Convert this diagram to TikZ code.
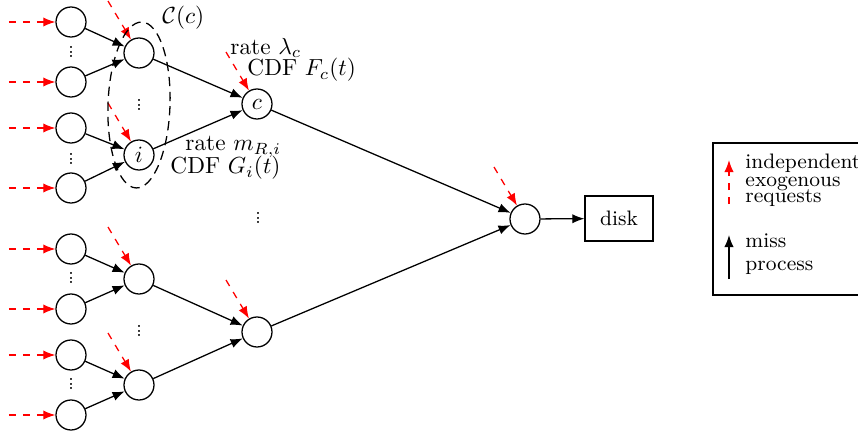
\documentclass[tikz,border=0pt]{standalone}
\usetikzlibrary{arrows.meta,calc}
\newcommand\tightvdots{\vbox{\baselineskip2.1pt \lineskiplimit0pt \hbox{.}\hbox{.}\hbox{.}}}
\begin{document}
\begin{tikzpicture}[x=0.43pt,y=-0.43pt,
  nd/.style={circle,draw,line width=0.55pt,minimum size=12.9pt,inner sep=0pt},
  miss/.style={-{Latex[length=5.2pt,width=4pt]},line width=0.55pt},
  exo/.style={-{Latex[length=5.2pt,width=4pt]},red,dashed,line width=0.55pt},
  lbl/.style={anchor=west,inner sep=0pt},
  lgd/.style={anchor=base west,inner sep=0pt,font=\small,text height=5pt,text depth=1pt},
  vd/.style={inner sep=0pt,font=\footnotesize}]
\clip (0,0) rectangle (858,434);
% leaves
\foreach \n/\y in {1/22,2/82,3/128,4/188,5/249,6/309,7/355,8/415}{
  \node[nd] (L\n) at (71,\y) {};
  \coordinate (s\n) at (9,\y);
  \draw[exo] (s\n) -- (L\n);
}
% middle
\node[nd] (M1) at (139,53) {};
\node[nd] (M2) at (139,155) {$i$};
\node[nd] (M3) at (139,279) {};
\node[nd] (M4) at (139,385) {};
% third
\node[nd] (T1) at (257,104) {$c$};
\node[nd] (T2) at (257,332) {};
% root and disk
\node[nd] (R) at (525,219) {};
\node[draw,line width=0.55pt,minimum width=29.2pt,minimum height=19.4pt,inner sep=0pt,font=\small] (D) at (619,218.5) {disk};
% exogenous arrows into inner nodes
\foreach \m in {M1,M2,M3,M4,T1,T2,R}{
  \coordinate (e\m) at ($(\m)+(-31,-52)$);
  \draw[exo] (e\m) -- (\m);
}
% miss edges
\draw[miss] (L1) -- (M1); \draw[miss] (L2) -- (M1);
\draw[miss] (L3) -- (M2); \draw[miss] (L4) -- (M2);
\draw[miss] (L5) -- (M3); \draw[miss] (L6) -- (M3);
\draw[miss] (L7) -- (M4); \draw[miss] (L8) -- (M4);
\draw[miss] (M1) -- (T1); \draw[miss] (M2) -- (T1);
\draw[miss] (M3) -- (T2); \draw[miss] (M4) -- (T2);
\draw[miss] (T1) -- (R); \draw[miss] (T2) -- (R);
\draw[miss] (R) -- (D);
% vertical dots
\foreach \nm/\x/\y in {d1/71/52,d2/71/159,d3/71/278,d4/71/384,d5/139/105,d6/139/331,d7/258/218}{
  \node[vd] (\nm) at (\x,\y) {\tightvdots};
}
% cluster ellipse
\draw[line width=0.55pt,dash pattern=on 4pt off 2.5pt,rotate around={-2:(139,105)}] (139,105) ellipse [x radius=31,y radius=83];
\node[lbl] (Cc) at (162,18) {$\mathcal{C}(c)$};
% labels
\node[lbl] (rc) at (230,48) {rate $\lambda_c$};
\node[lbl] (fc) at (247,70) {CDF $F_c(t)$};
\node[lbl] (ri) at (185,147) {rate $m_{R,i}$};
\node[lbl] (gi) at (170,168) {CDF $G_i(t)$};
% legend
\draw[line width=0.55pt] (713,143) rectangle (900,295);
\coordinate (le1) at (729,204);
\coordinate (le2) at (729,160);
\coordinate (lm1) at (729,279);
\coordinate (lm2) at (729,235);
\draw[exo] (le1) -- (le2);
\draw[miss] (lm1) -- (lm2);
\node[lgd] (t1) at (745,169) {independent};
\node[lgd] (t2) at (745,186) {exogenous};
\node[lgd] (t3) at (745,202.5) {requests};
\node[lgd] (t4) at (745,248) {miss};
\node[lgd] (t5) at (745,270) {process};
\end{tikzpicture}
\end{document}
